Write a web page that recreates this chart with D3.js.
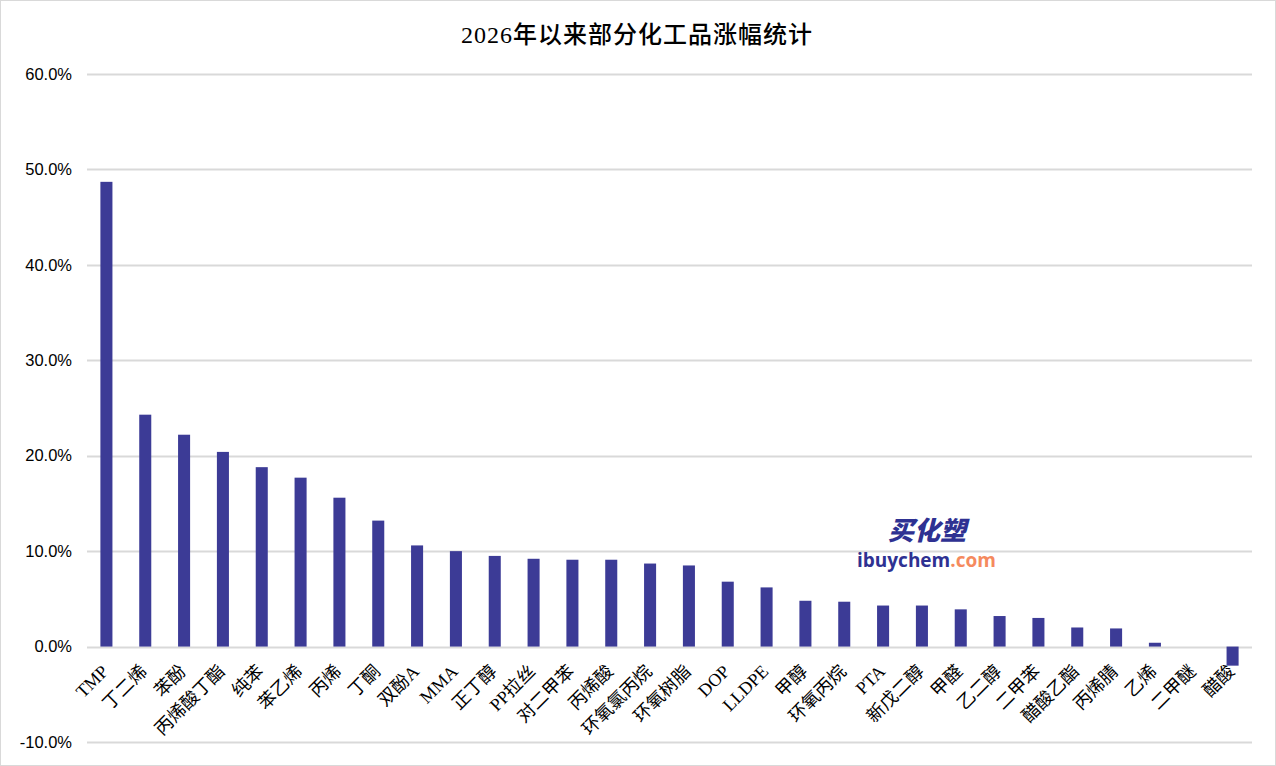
<!DOCTYPE html>
<html><head><meta charset="utf-8">
<script src="https://cdn.jsdelivr.net/npm/d3@7"></script>
<style>
html,body{margin:0;padding:0;background:#fff;}
svg{display:block;}
</style></head>
<body>
<svg id="chart" width="1276" height="766"></svg>
<script>
const title = "2026年以来部分化工品涨幅统计";
const categories = ["TMP","丁二烯","苯酚","丙烯酸丁酯","纯苯","苯乙烯","丙烯","丁酮","双酚A","MMA","正丁醇","PP拉丝","对二甲苯","丙烯酸","环氧氯丙烷","环氧树脂","DOP","LLDPE","甲醇","环氧丙烷","PTA","新戊二醇","甲醛","乙二醇","二甲苯","醋酸乙酯","丙烯腈","乙烯","二甲醚","醋酸"];
const values = [48.7,24.3,22.2,20.4,18.8,17.7,15.6,13.2,10.6,10.0,9.5,9.2,9.1,9.1,8.7,8.5,6.8,6.2,4.8,4.7,4.3,4.3,3.9,3.2,3.0,2.0,1.9,0.4,0.0,-2.0];
const yTicks = [-10,0,10,20,30,40,50,60];

const W = 1276, H = 766;
const svg = d3.select("#chart");
const m = {left:87, right:1252, top:74, bottom:742};
const serif = "'Liberation Serif','Times New Roman','Noto Sans CJK SC',serif";

svg.append("rect").attr("x",0.5).attr("y",0.5).attr("width",W-1).attr("height",H-1)
  .attr("fill","#fff").attr("stroke","#d9d9d9").attr("stroke-width",1);

svg.append("text").attr("x",637).attr("y",43).attr("text-anchor","middle")
  .attr("font-family","'Liberation Serif','Noto Sans CJK SC',serif").attr("font-size",24)
  .attr("font-weight",500).attr("letter-spacing",1).attr("fill","#000").text(title);

const x = d3.scaleBand().domain(categories).range([m.left,m.right]).paddingInner(0.69).paddingOuter(0.345);
const y = d3.scaleLinear().domain([-10,60]).range([m.bottom,m.top]);

const grid = svg.append("g");
grid.selectAll("line").data(yTicks).join("line")
  .attr("x1",m.left).attr("x2",m.right)
  .attr("y1",d=>Math.round(y(d))+0.5).attr("y2",d=>Math.round(y(d))+0.5)
  .attr("stroke","#d9d9d9").attr("stroke-width",2);

const yAxis = d3.axisLeft(y).tickValues(yTicks).tickSize(0).tickPadding(15)
  .tickFormat(d=>d.toFixed(1)+"%");
const ga = svg.append("g").attr("transform",`translate(${m.left},0)`).call(yAxis);
ga.select(".domain").remove();
ga.selectAll("text").attr("font-family","'Liberation Sans',sans-serif").attr("font-size",16.5).attr("fill","#000");

svg.append("g").selectAll("rect").data(values).join("rect")
  .attr("x",(d,i)=>x(categories[i]))
  .attr("width",x.bandwidth())
  .attr("y",d=>y(Math.max(0,d)))
  .attr("height",d=>Math.abs(y(d)-y(0)))
  .attr("fill","#3c3b96");

// watermark
const wm = svg.append("g");
wm.append("text").attr("x",927).attr("y",540).attr("text-anchor","middle")
  .attr("font-family","'Noto Sans CJK SC',sans-serif").attr("font-weight",900)
  .attr("font-style","italic").attr("font-size",26).attr("fill","#2e3192").text("买化塑");
const wt = wm.append("text").attr("x",857).attr("y",567)
  .attr("font-family","'Open Sans','Noto Sans',sans-serif").attr("font-weight",700).attr("font-size",19);
wt.append("tspan").attr("fill","#2e3192").text("ibuychem");
wt.append("tspan").attr("fill","#f58a5e").text(".com");

const xl = svg.append("g");
xl.selectAll("text").data(categories).join("text")
  .attr("transform",d=>`translate(${x(d)+x.bandwidth()/2+3},${y(0)+26}) rotate(-45)`)
  .attr("text-anchor","end")
  .attr("font-family",serif).attr("font-size",18).attr("fill","#000")
  .text(d=>d);
</script>
</body></html>
